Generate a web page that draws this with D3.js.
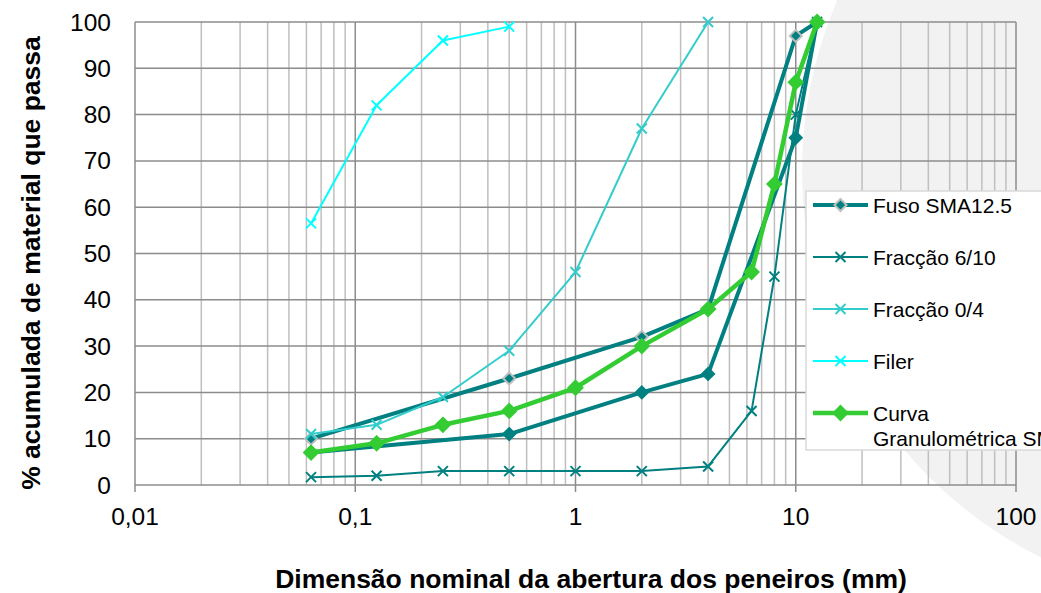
<!DOCTYPE html>
<html>
<head>
<meta charset="utf-8">
<script src="https://d3js.org/d3.v7.min.js"></script>
<style>
  body { margin: 0; background: #fff; }
  text { font-family: "Liberation Sans", Arial, sans-serif; fill: #000; }
  .tick-label { font-size: 24.5px; }
  .axis-title { font-size: 26.5px; font-weight: bold; }
  .legend-label { font-size: 21px; }
</style>
</head>
<body>
<script>
  // sieve sizes (mm)
  const sieves = [0.063, 0.125, 0.25, 0.5, 1, 2, 4, 6.3, 8, 10, 12.5];
  // % passing for each series (null = no point)
  const fusoUpper = [10, null, null, 23, null, 32, 38, null, null, 97, 100];
  const fusoLower = [7, null, null, 11, null, 20, 24, null, null, 75, 100];
  const fraccao610 = [1.7, 2, 3, 3, 3, 3, 4, 16, 45, 80, 100];
  const fraccao04 = [11, 13, 19, 29, 46, 77, 100, null, null, null, null];
  const filer = [56.5, 82, 96, 99, null, null, null, null, null, null, null];
  const curva = [7, 9, 13, 16, 21, 30, 38, 46, 65, 87, 100];

  const xTicks = [0.01, 0.1, 1, 10, 100];
  const yTicks = [0, 10, 20, 30, 40, 50, 60, 70, 80, 90, 100];

  const width = 1041, height = 593;
  const svg = d3.select('body').append('svg').attr('width', width).attr('height', height);

  // decorative background circle
  svg.append('circle').attr('cx', 1234).attr('cy', 171).attr('r', 432).attr('fill', '#f2f2f2');

  const x = d3.scaleLog().domain([0.01, 100]).range([135, 1016]);
  const y = d3.scaleLinear().domain([0, 100]).range([485, 22]);

  // minor vertical grid
  const minor = [];
  for (let d = 0.01; d < 100; d *= 10) for (let k = 2; k <= 9; k++) minor.push(d * k);
  svg.append('g').selectAll('line').data(minor).join('line')
    .attr('x1', d => x(d)).attr('x2', d => x(d)).attr('y1', y(0)).attr('y2', y(100))
    .attr('stroke', '#bfbfbf').attr('stroke-width', 1.5);

  // horizontal grid
  svg.append('g').selectAll('line').data(yTicks).join('line')
    .attr('x1', x(0.01)).attr('x2', x(100)).attr('y1', d => y(d)).attr('y2', d => y(d))
    .attr('stroke', '#8c8c8c').attr('stroke-width', 1.5);

  // major vertical grid + ticks
  svg.append('g').selectAll('line').data(xTicks).join('line')
    .attr('x1', d => x(d)).attr('x2', d => x(d)).attr('y1', y(100)).attr('y2', y(0) + 7)
    .attr('stroke', '#8c8c8c').attr('stroke-width', 1.5);

  svg.append('g').selectAll('text').data(yTicks).join('text').classed('tick-label', true)
    .attr('x', 111).attr('y', d => y(d) + 8.5).attr('text-anchor', 'end').text(d => d);

  svg.append('g').selectAll('text').data(xTicks).join('text').classed('tick-label', true)
    .attr('x', d => x(d)).attr('y', 525).attr('text-anchor', 'middle')
    .text(d => String(d).replace('.', ','));

  svg.append('text').classed('axis-title', true).attr('x', 591).attr('y', 588)
    .attr('text-anchor', 'middle').text('Dimensão nominal da abertura dos peneiros (mm)');
  svg.append('text').classed('axis-title', true).attr('transform', 'translate(40,263) rotate(-90)')
    .attr('text-anchor', 'middle').text('% acumulada de material que passa');

  const series = [
    {name: 'Fuso SMA12.5', values: fusoLower, color: '#008080', width: 4, marker: 'diamond', size: 6, edge: '#008080', legend: false},
    {name: 'Fuso SMA12.5', values: fusoUpper, color: '#008080', width: 4, marker: 'diamond', size: 6, edge: '#bfbfbf', legend: true},
    {name: 'Fracção 6/10', values: fraccao610, color: '#008080', width: 2, marker: 'x', size: 5, legend: true},
    {name: 'Fracção 0/4', values: fraccao04, color: '#33cccc', width: 2, marker: 'x', size: 5, legend: true},
    {name: 'Filer', values: filer, color: '#00ffff', width: 2, marker: 'x', size: 5, legend: true},
    {name: 'Curva Granulométrica SMA', values: curva, color: '#33cc33', width: 4.5, marker: 'diamond', size: 7, edge: '#33cc33', legend: true}
  ];

  function drawMarker(g, s, cx, cy) {
    if (s.marker === 'diamond') {
      const r = s.size;
      g.append('path').attr('d', `M${cx},${cy - r}L${cx + r},${cy}L${cx},${cy + r}L${cx - r},${cy}Z`)
        .attr('fill', s.color).attr('stroke', s.edge).attr('stroke-width', 2);
    } else {
      const r = s.size;
      g.append('path').attr('d', `M${cx - r},${cy - r}L${cx + r},${cy + r}M${cx - r},${cy + r}L${cx + r},${cy - r}`)
        .attr('stroke', s.color).attr('stroke-width', 2).attr('fill', 'none');
    }
  }

  const line = d3.line().defined(d => d[1] != null).x(d => x(d[0])).y(d => y(d[1]));

  series.forEach(s => {
    const pts = sieves.map((v, i) => [v, s.values[i]]).filter(d => d[1] != null);
    const g = svg.append('g');
    g.append('path').attr('d', line(pts)).attr('fill', 'none')
      .attr('stroke', s.color).attr('stroke-width', s.width).attr('stroke-linejoin', 'round');
    pts.forEach(p => drawMarker(g, s, x(p[0]), y(p[1])));
  });

  // legend (clipped by the right edge, as in the original)
  const lg = svg.append('g');
  lg.append('rect').attr('x', 806).attr('y', 191).attr('width', 260).attr('height', 259)
    .attr('fill', '#fff').attr('stroke', '#d9d9d9').attr('stroke-width', 1.5);
  series.filter(s => s.legend).forEach((s, i) => {
    const cy = 205 + i * 52;
    lg.append('line').attr('x1', 813).attr('x2', 868).attr('y1', cy).attr('y2', cy)
      .attr('stroke', s.color).attr('stroke-width', s.width);
    drawMarker(lg, s, 840.5, cy);
    const t = lg.append('text').classed('legend-label', true).attr('x', 873).attr('y', cy + 7.5);
    if (s.name.startsWith('Curva')) {
      t.append('tspan').attr('x', 873).text('Curva');
      t.append('tspan').attr('x', 873).attr('dy', 25).text('Granulométrica SMA');
    } else {
      t.text(s.name);
    }
  });
</script>
</body>
</html>
